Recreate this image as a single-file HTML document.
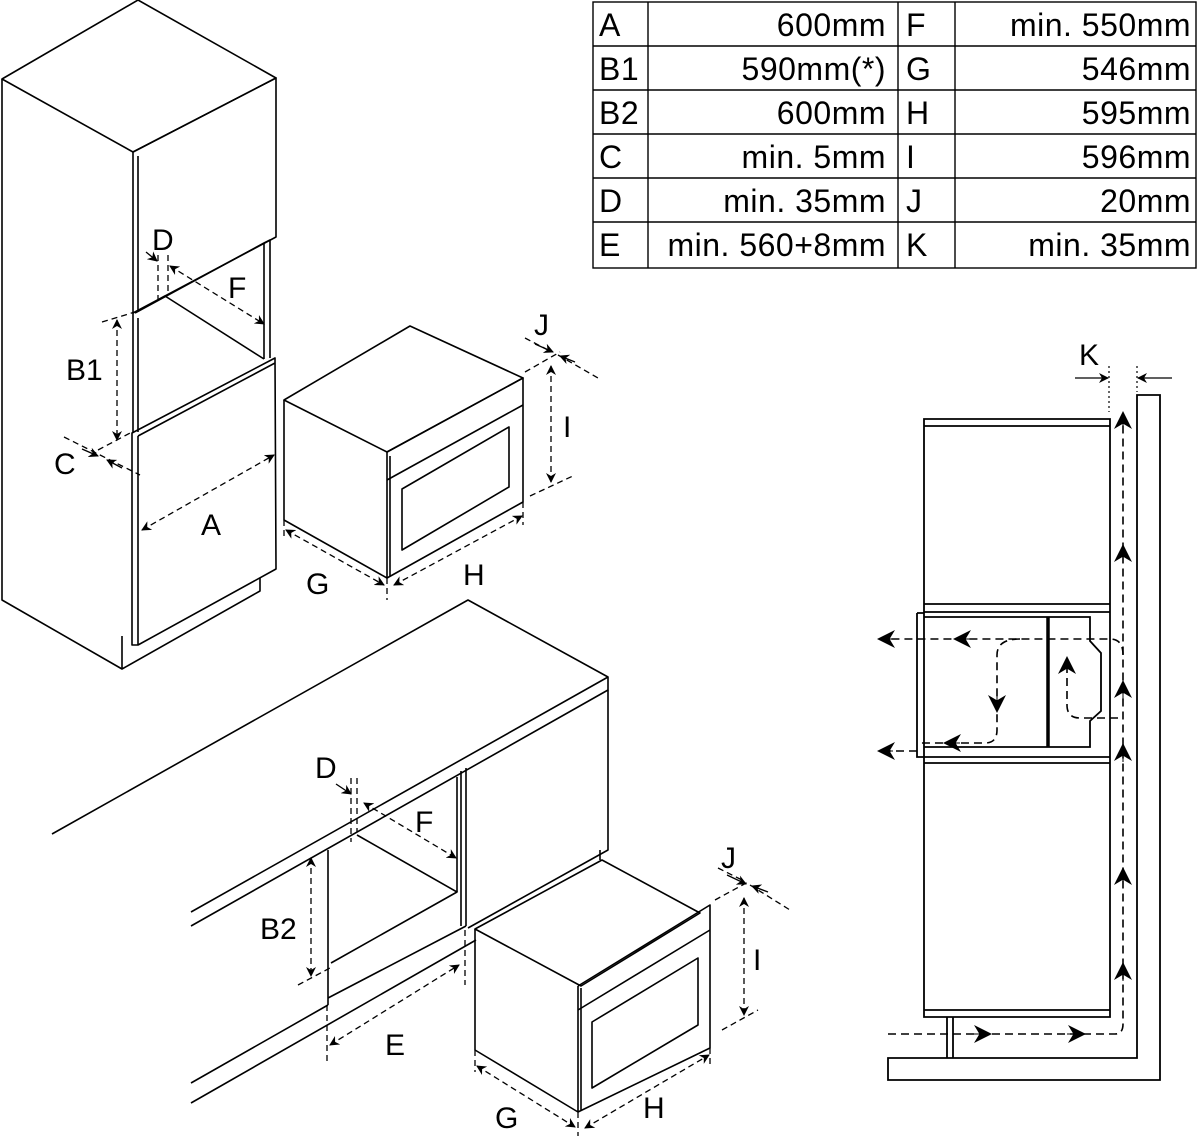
<!DOCTYPE html>
<html><head><meta charset="utf-8"><style>
html,body{margin:0;padding:0;background:#fff;}
svg{display:block;}
text{font-family:"Liberation Sans",sans-serif;fill:#000;}
</style></head><body>
<svg width="1200" height="1136" viewBox="0 0 1200 1136" xmlns="http://www.w3.org/2000/svg">
<defs>
<marker id="a" viewBox="0 0 10 10" refX="9" refY="5" markerWidth="10" markerHeight="10" orient="auto-start-reverse" markerUnits="userSpaceOnUse"><path d="M0,0 L10,5 L0,10 L3,5 z" fill="#000"/></marker>
<marker id="b" viewBox="0 0 10 10" refX="5" refY="5" markerWidth="18" markerHeight="18" orient="auto" markerUnits="userSpaceOnUse"><path d="M0,0 L10,5 L0,10 L3,5 z" fill="#000"/></marker>
</defs>

<!-- Table -->
<g stroke="#000" stroke-width="1.4" fill="none">
<rect x="593" y="2" width="603" height="266"/>
<line x1="593" y1="46" x2="1196" y2="46"/><line x1="593" y1="90" x2="1196" y2="90"/>
<line x1="593" y1="134" x2="1196" y2="134"/><line x1="593" y1="178" x2="1196" y2="178"/>
<line x1="593" y1="222" x2="1196" y2="222"/>
<line x1="648" y1="2" x2="648" y2="268"/><line x1="898" y1="2" x2="898" y2="268"/><line x1="955" y1="2" x2="955" y2="268"/>
</g>
<g font-size="32" letter-spacing="0.5">
<text x="599" y="36">A</text><text x="599" y="80">B1</text><text x="599" y="124">B2</text><text x="599" y="168">C</text><text x="599" y="212">D</text><text x="599" y="256">E</text>
<text x="906" y="36">F</text><text x="906" y="80">G</text><text x="906" y="124">H</text><text x="906" y="168">I</text><text x="906" y="212">J</text><text x="906" y="256">K</text>
<g text-anchor="end">
<text x="886" y="36">600mm</text><text x="886" y="80">590mm(*)</text><text x="886" y="124">600mm</text><text x="886" y="168">min. 5mm</text><text x="886" y="212">min. 35mm</text><text x="886" y="256">min. 560+8mm</text>
<text x="1191" y="36">min. 550mm</text><text x="1191" y="80">546mm</text><text x="1191" y="124">595mm</text><text x="1191" y="168">596mm</text><text x="1191" y="212">20mm</text><text x="1191" y="256">min. 35mm</text>
</g></g>

<!-- Tall cabinet -->
<g stroke="#000" stroke-width="1.6" fill="none" stroke-linejoin="round">
<path d="M2,79 L138,0 L276,78 L133,152 Z"/>
<path d="M2,79 L2,600 L122,669"/>
<path d="M133,152 L133,313 M138,156 L138,312 M133,152 L276,78 L276,237 L133,313"/>
<path d="M135,313 L264,243 L270,240 L270,358"/>
<path d="M264,243 L264,359"/>
<path d="M133,313 L133,433 M138,318 L138,432"/>
<path d="M158,300 L165,296 L264,359"/>
<path d="M132,433 L275,358 L276,569 L138,645 L132,645 Z M138,436 L275,363"/>
<path d="M138,436 L138,645"/>
<path d="M122,636 L122,669 L260,591 L260,578"/>
</g>
<g stroke="#000" stroke-width="1.3" fill="none" stroke-dasharray="6 4">
<line x1="158" y1="255" x2="158" y2="300"/><line x1="168" y1="255" x2="168" y2="295"/>
<line x1="170" y1="266" x2="264" y2="324" marker-start="url(#a)" marker-end="url(#a)"/>
<line x1="117" y1="320" x2="117" y2="440" marker-start="url(#a)" marker-end="url(#a)"/>
<line x1="102" y1="322" x2="135" y2="312"/><line x1="98" y1="450" x2="132" y2="432"/>
<line x1="64" y1="437" x2="140" y2="475"/>
<line x1="142" y1="530" x2="274" y2="455" marker-start="url(#a)" marker-end="url(#a)"/>
</g>
<g stroke="#000" stroke-width="1.3" fill="none">
<line x1="146" y1="252" x2="157" y2="261" marker-end="url(#a)"/>
<line x1="82" y1="449" x2="98" y2="456" marker-end="url(#a)"/>
<line x1="122" y1="468" x2="107" y2="460" marker-end="url(#a)"/>
</g>
<g font-size="30">
<text x="152" y="250">D</text><text x="228" y="298">F</text><text x="66" y="380">B1</text><text x="54" y="474">C</text><text x="201" y="535">A</text>
</g>

<!-- Oven 1 -->
<g stroke="#000" stroke-width="1.6" fill="none" stroke-linejoin="round">
<path d="M284,400 L410,326 L523,378 L387,452 Z"/>
<path d="M284,400 L284,520 L387,578 L387,452"/>
<path d="M387,452 L523,378 L523,502 L387,578"/>
<path d="M390,456 L390,576"/>
<path d="M387,480 L523,405"/>
<path d="M402,489 L509,427 L509,487 L402,550 Z"/>
</g>
<g stroke="#000" stroke-width="1.3" fill="none" stroke-dasharray="6 4">
<line x1="286" y1="530" x2="384" y2="585" marker-start="url(#a)" marker-end="url(#a)"/>
<line x1="394" y1="585" x2="522" y2="516" marker-start="url(#a)" marker-end="url(#a)"/>
<line x1="387" y1="578" x2="387" y2="600"/><line x1="523" y1="502" x2="523" y2="525"/><line x1="284" y1="520" x2="284" y2="538"/>
<line x1="551" y1="366" x2="551" y2="482" marker-start="url(#a)" marker-end="url(#a)"/>
<line x1="530" y1="496" x2="575" y2="475"/><line x1="525" y1="372" x2="560" y2="352"/>
<line x1="558" y1="355" x2="598" y2="378"/><line x1="525" y1="338" x2="548" y2="350"/>
</g>
<g stroke="#000" stroke-width="1.3" fill="none">
<line x1="535" y1="344" x2="553" y2="352" marker-end="url(#a)"/>
<line x1="575" y1="362" x2="560" y2="356" marker-end="url(#a)"/>
</g>
<g font-size="30">
<text x="306" y="594">G</text><text x="463" y="585">H</text><text x="563" y="437">I</text><text x="534" y="335">J</text>
</g>

<!-- Counter / bottom cabinets -->
<g stroke="#000" stroke-width="1.6" fill="none" stroke-linejoin="round">
<path d="M52,834 L468,600 L608,677 L608,690 L191,926"/>
<path d="M608,677 L191,912"/>
<path d="M608,690 L608,850 L468,928"/>
<path d="M461,771 L461,926 M466,768 L466,926"/>
<path d="M328,850 L328,1005"/>
<path d="M357,835 L457,892 L331,963"/>
<path d="M457,777 L457,892"/>
<path d="M328,998 L466,926"/>
<path d="M191,1083 L328,1005"/>
<path d="M191,1103 L476,940"/>
<path d="M600,850 L600,860"/>
</g>
<!-- Oven 2 -->
<g stroke="#000" stroke-width="1.6" fill="none" stroke-linejoin="round">
<path d="M475,929 L602,860 L700,913 L581,986 Z"/>
<path d="M475,929 L475,1050 L578,1112 L578,986"/>
<path d="M578,986 L710,905 L710,1048 L578,1112"/>
<path d="M581,988 L581,1110"/>
<path d="M578,1010 L710,930"/>
<path d="M592,1022 L698,958 L698,1025 L592,1088 Z"/>
</g>
<g stroke="#000" stroke-width="1.3" fill="none" stroke-dasharray="6 4">
<line x1="351" y1="778" x2="351" y2="842"/><line x1="357" y1="778" x2="357" y2="832"/>
<line x1="364" y1="803" x2="456" y2="858" marker-start="url(#a)" marker-end="url(#a)"/>
<line x1="311" y1="858" x2="311" y2="976" marker-start="url(#a)" marker-end="url(#a)"/>
<line x1="298" y1="985" x2="330" y2="968"/>
<line x1="330" y1="1045" x2="459" y2="965" marker-start="url(#a)" marker-end="url(#a)"/>
<line x1="327" y1="1005" x2="327" y2="1062"/><line x1="465" y1="930" x2="465" y2="985"/>
<line x1="477" y1="1066" x2="575" y2="1127" marker-start="url(#a)" marker-end="url(#a)"/>
<line x1="585" y1="1128" x2="709" y2="1055" marker-start="url(#a)" marker-end="url(#a)"/>
<line x1="578" y1="1112" x2="578" y2="1136"/><line x1="710" y1="1048" x2="710" y2="1068"/><line x1="475" y1="1050" x2="475" y2="1072"/>
<line x1="744" y1="898" x2="744" y2="1015" marker-start="url(#a)" marker-end="url(#a)"/>
<line x1="722" y1="1030" x2="758" y2="1010"/><line x1="715" y1="900" x2="748" y2="882"/>
<line x1="750" y1="885" x2="790" y2="910"/><line x1="718" y1="868" x2="742" y2="880"/>
</g>
<g stroke="#000" stroke-width="1.3" fill="none">
<line x1="336" y1="784" x2="351" y2="794" marker-end="url(#a)"/>
<line x1="727" y1="875" x2="746" y2="884" marker-end="url(#a)"/>
<line x1="768" y1="892" x2="752" y2="886" marker-end="url(#a)"/>
</g>
<g font-size="30">
<text x="315" y="778">D</text><text x="415" y="832">F</text><text x="260" y="939">B2</text><text x="385" y="1055">E</text>
<text x="495" y="1128">G</text><text x="643" y="1118">H</text><text x="753" y="970">I</text><text x="721" y="868">J</text>
</g>

<!-- Right side section -->
<g stroke="#000" stroke-width="1.8" fill="none" stroke-linejoin="miter">
<path d="M1137,395 L1160,395 L1160,1080 L888,1080 L888,1058 L1137,1058 Z"/>
<path d="M924,419 L1110,419 L1110,1017 L924,1017 Z"/>
<path d="M924,426 L1110,426"/>
<path d="M924,604 L1110,604 M924,612 L1110,612"/>
<path d="M924,757 L1110,757 M924,763 L1110,763"/>
<path d="M924,1010 L1110,1010"/>
<path d="M917,613 L924,613 M917,613 L917,757 L924,757"/>
<path d="M924,617 L1090,617 L1090,641 L1101,653 L1101,711 L1090,721 L1090,747 L924,747"/>
<path d="M947,1017 L947,1058 M953,1017 L953,1058"/>
</g>
<line x1="1048" y1="617" x2="1048" y2="747" stroke="#000" stroke-width="3.5"/>
<g stroke="#000" stroke-width="1.2" fill="none" stroke-dasharray="2 3">
<line x1="1109" y1="366" x2="1109" y2="412"/><line x1="1137" y1="366" x2="1137" y2="392"/>
</g>
<g stroke="#000" stroke-width="1.3" fill="none">
<line x1="1075" y1="378" x2="1108" y2="378" marker-end="url(#a)"/>
<line x1="1172" y1="378" x2="1138" y2="378" marker-end="url(#a)"/>
</g>
<text x="1079" y="365" font-size="30">K</text>
<g stroke="#000" stroke-width="1.6" fill="none" stroke-dasharray="8 5">
<path d="M888,1034 L1115,1034 Q1123,1034 1123,1024 L1123,420"/>
<path d="M1123,655 Q1123,639 1110,639 L883,639"/>
<path d="M1020,639 Q997,639 997,655 L997,730 Q997,743 985,743 L920,743"/>
<path d="M917,751 L883,751"/>
<path d="M1118,718 L1080,718 Q1067,718 1067,705 L1067,665"/>
</g>
<g>
<line x1="1123" y1="430" x2="1123" y2="420" stroke="#000" marker-end="url(#b)"/>
<line x1="1123" y1="563" x2="1123" y2="553" stroke="#000" marker-end="url(#b)"/>
<line x1="1123" y1="699" x2="1123" y2="689" stroke="#000" marker-end="url(#b)"/>
<line x1="1123" y1="762" x2="1123" y2="752" stroke="#000" marker-end="url(#b)"/>
<line x1="1123" y1="886" x2="1123" y2="876" stroke="#000" marker-end="url(#b)"/>
<line x1="1123" y1="981" x2="1123" y2="971" stroke="#000" marker-end="url(#b)"/>
<line x1="973" y1="1034" x2="983" y2="1034" stroke="#000" marker-end="url(#b)"/>
<line x1="1067" y1="1034" x2="1077" y2="1034" stroke="#000" marker-end="url(#b)"/>
<line x1="893" y1="639" x2="886" y2="639" stroke="#000" marker-end="url(#b)"/>
<line x1="970" y1="639" x2="962" y2="639" stroke="#000" marker-end="url(#b)"/>
<line x1="893" y1="751" x2="886" y2="751" stroke="#000" marker-end="url(#b)"/>
<line x1="960" y1="743" x2="952" y2="743" stroke="#000" marker-end="url(#b)"/>
<line x1="997" y1="696" x2="997" y2="704" stroke="#000" marker-end="url(#b)"/>
<line x1="1067" y1="673" x2="1067" y2="665" stroke="#000" marker-end="url(#b)"/>
</g>
</svg>
</body></html>
